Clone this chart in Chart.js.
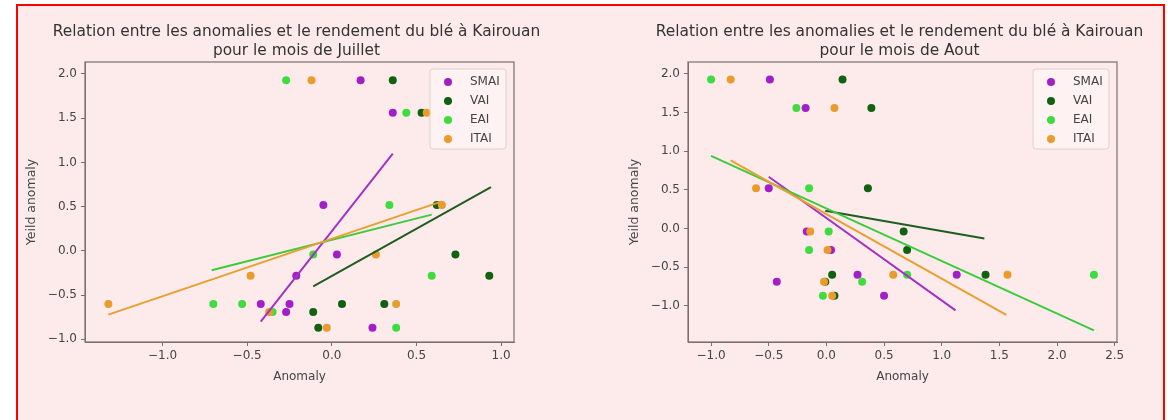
<!DOCTYPE html>
<html>
<head>
<meta charset="utf-8">
<script src="https://cdn.jsdelivr.net/npm/chart.js@4.4.1/dist/chart.umd.min.js"></script>
<style>
  html, body { margin: 0; padding: 0; background: #ffffff; }
  #frame {
    position: absolute; left: 16px; top: 4px; width: 1145px; height: 420px;
    border: 2px solid #ff0000; border-bottom: none; background: #fdebeb;
  }
  canvas { position: absolute; }
  #julChart { left: 17px; top: 5px; }
  #aouChart { left: 590px; top: 5px; }
</style>
</head>
<body>
<div id="frame"></div>
<canvas id="julChart" width="560" height="410"></canvas>
<canvas id="aouChart" width="573" height="410"></canvas>
<script>
// yield anomaly per season (same for both months)
const yieldAnomaly = [1.93, 1.56, 0.52, -0.04, -0.28, -0.60, -0.60, -0.69, -0.87];

// index anomalies, July
const julSMAI = [0.17, 0.36, -0.05, 0.03, -0.21, -0.42, -0.25, -0.27, 0.24];
const julVAI  = [0.36, 0.53, 0.62, 0.73, 0.93, 0.06, 0.31, -0.11, -0.08];
const julEAI  = [-0.27, 0.44, 0.34, -0.11, 0.59, -0.70, -0.53, -0.35, 0.38];
const julITAI = [-0.12, 0.56, 0.65, 0.26, -0.48, -1.32, 0.38, -0.37, -0.03];

// index anomalies, August
const aouSMAI = [-0.49, -0.18, -0.50, -0.17, 0.04, 0.27, 1.13, -0.43, 0.50];
const aouVAI  = [0.14, 0.39, 0.36, 0.67, 0.70, 0.05, 1.38, -0.01, 0.07];
const aouEAI  = [-1.00, -0.26, -0.15, 0.02, -0.15, 0.70, 2.32, 0.31, -0.03];
const aouITAI = [-0.83, 0.07, -0.61, -0.14, 0.01, 0.58, 1.57, -0.02, 0.05];

// regression line end points [x, y]
const julFitSMAI = [[-0.42, -0.80], [0.36, 1.10]];
const julFitVAI  = [[-0.11, -0.40], [0.94, 0.72]];
const julFitEAI  = [[-0.71, -0.22], [0.59, 0.41]];
const julFitITAI = [[-1.32, -0.72], [0.65, 0.56]];

const aouFitSMAI = [[-0.50, 0.67], [1.12, -1.06]];
const aouFitVAI  = [[-0.01, 0.23], [1.37, -0.13]];
const aouFitEAI  = [[-1.00, 0.94], [2.32, -1.32]];
const aouFitITAI = [[-0.83, 0.88], [1.56, -1.12]];

const seriesNames = ['SMAI', 'VAI', 'EAI', 'ITAI'];
const pointColors = ['#a21fc8', '#116111', '#3fdc3f', '#e99b2c'];
const lineColors  = ['#a232c4', '#1f5c1f', '#3ccb3c', '#e89f30'];

const fmt = v => v.toFixed(1).replace('-', '\u2212');

// legend drawn inside the plot, plus the full axes frame
const axesBox = {
  id: 'axesBox',
  afterLayout(chart) {
    // center the title over the plot area rather than the canvas
    const a = chart.chartArea;
    const tb = chart.titleBlock;
    const c = (a.left + a.right) / 2 - 3;
    tb.left = c - 300;
    tb.right = c + 300;
    tb.width = 600;
  },
  afterDatasetsDraw(chart) {
    const { ctx, chartArea: a } = chart;
    ctx.save();
    ctx.strokeStyle = '#7a7070';
    ctx.lineWidth = 1.2;
    ctx.strokeRect(a.left, a.top, a.right - a.left, a.bottom - a.top);

    const w = 76, h = 80;
    const x0 = a.right - 8 - w, y0 = a.top + 7;
    ctx.beginPath();
    ctx.roundRect(x0, y0, w, h, 3);
    ctx.fillStyle = 'rgba(255,255,255,0.35)';
    ctx.fill();
    ctx.strokeStyle = '#dccfcf';
    ctx.lineWidth = 1;
    ctx.stroke();

    ctx.font = '12px "DejaVu Sans"';
    ctx.textBaseline = 'middle';
    seriesNames.forEach((name, i) => {
      const y = y0 + 13 + i * 19;
      ctx.beginPath();
      ctx.arc(x0 + 18, y, 4, 0, Math.PI * 2);
      ctx.fillStyle = pointColors[i];
      ctx.fill();
      ctx.fillStyle = '#444';
      ctx.fillText(name, x0 + 40, y);
    });
    ctx.restore();
  }
};

function buildDatasets(xsList, fits) {
  const sets = [];
  xsList.forEach((xs, i) => {
    sets.push({
      label: seriesNames[i],
      data: xs.map((x, k) => ({ x: x, y: yieldAnomaly[k] })),
      backgroundColor: pointColors[i],
      borderWidth: 0,
      pointRadius: 4,
      order: 8 - i
    });
  });
  fits.forEach((f, i) => {
    sets.push({
      label: seriesNames[i] + ' fit',
      data: f.map(p => ({ x: p[0], y: p[1] })),
      showLine: true,
      borderColor: lineColors[i],
      borderWidth: 2,
      pointRadius: 0,
      order: 4 - i
    });
  });
  return sets;
}

function makeChart(id, title, xsList, fits, xr, yr, padLeft, padRight) {
  const tickFont = { family: 'DejaVu Sans', size: 12 };
  new Chart(document.getElementById(id), {
    type: 'scatter',
    data: { datasets: buildDatasets(xsList, fits) },
    plugins: [axesBox],
    options: {
      responsive: false,
      animation: false,
      devicePixelRatio: 1,
      layout: { padding: { left: padLeft, right: padRight, top: 0, bottom: 0 } },
      plugins: {
        legend: { display: false },
        tooltip: { enabled: false },
        title: {
          display: true,
          text: title,
          color: '#333',
          font: { family: 'DejaVu Sans', size: 15.4, weight: 'normal', lineHeight: '19px' },
          padding: { top: 17, bottom: 2 }
        }
      },
      scales: {
        x: {
          type: 'linear',
          min: xr[0], max: xr[1],
          afterFit(s) { s.height = 73; s.paddingLeft = 0; s.paddingRight = 0; },
          ticks: { stepSize: 0.5, includeBounds: false, callback: fmt, color: '#444', font: tickFont, padding: 3, maxRotation: 0 },
          grid: { drawOnChartArea: false, drawTicks: true, tickLength: 4, color: '#7a7070' },
          border: { display: true, color: '#7a7070' },
          title: { display: true, text: 'Anomaly', color: '#444', font: tickFont, padding: { top: 4, bottom: 31 } }
        },
        y: {
          type: 'linear',
          min: yr[0], max: yr[1],
          afterFit(s) { s.width = 68; s.paddingTop = 0; s.paddingBottom = 0; },
          ticks: { stepSize: 0.5, includeBounds: false, callback: fmt, color: '#444', font: tickFont, padding: 4 },
          grid: { drawOnChartArea: false, drawTicks: true, tickLength: 4, color: '#7a7070' },
          border: { display: true, color: '#7a7070' },
          title: { display: true, text: 'Yeild anomaly', color: '#444', font: { family: 'DejaVu Sans', size: 12.5 }, padding: { top: 7, bottom: 0 } }
        }
      }
    }
  });
}

makeChart('julChart',
  ['Relation entre les anomalies et le rendement du blé à Kairouan', 'pour le mois de Juillet'],
  [julSMAI, julVAI, julEAI, julITAI],
  [julFitSMAI, julFitVAI, julFitEAI, julFitITAI],
  [-1.458, 1.076], [-1.03, 2.135], 0, 63);

makeChart('aouChart',
  ['Relation entre les anomalies et le rendement du blé à Kairouan', 'pour le mois de Aout'],
  [aouSMAI, aouVAI, aouEAI, aouITAI],
  [aouFitSMAI, aouFitVAI, aouFitEAI, aouFitITAI],
  [-1.20, 2.52], [-1.47, 2.155], 30, 46);
</script>
</body>
</html>
